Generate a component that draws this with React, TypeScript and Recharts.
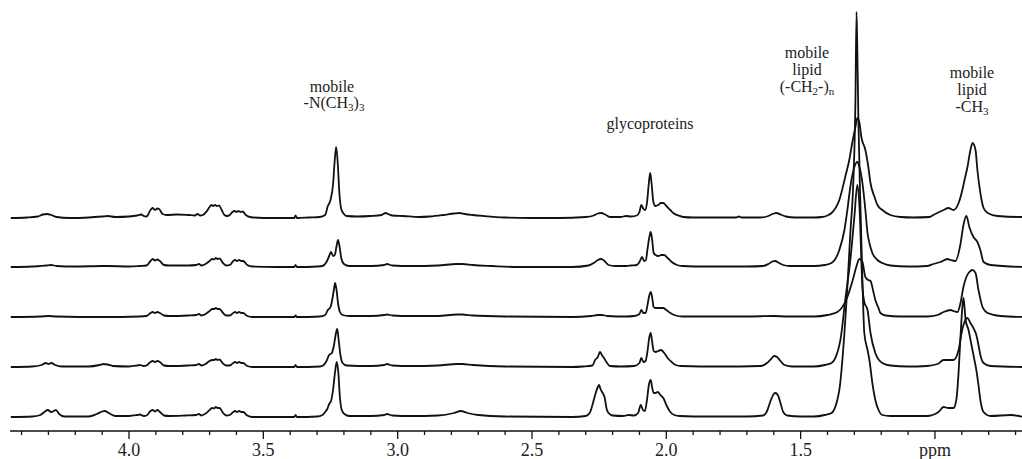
import React from "react";
import { LineChart, Line, XAxis, YAxis } from "recharts";

// tick values (ppm) and labels
const tickValues = [4.4, 4.3, 4.2, 4.1, 4.0, 3.9, 3.8, 3.7, 3.6, 3.5, 3.4, 3.3, 3.2, 3.1, 3.0, 2.9, 2.8, 2.7, 2.6, 2.5, 2.4, 2.3, 2.2, 2.1, 2.0, 1.9, 1.8, 1.7, 1.6, 1.5, 1.4, 1.3, 1.2, 1.1, 1.0, 0.9, 0.8, 0.7];
const majorTicks = [4.0, 3.5, 3.0, 2.5, 2.0, 1.5, 1.0];
const majorLabels = ["4.0", "3.5", "3.0", "2.5", "2.0", "1.5", "ppm"];

// vertical offset of each stacked spectrum (top to bottom)
const offsets = [213, 164, 114, 64, 14];

// [ppm, intensity above baseline]
const trace1: [number, number][] = [
  [4.44,0],[4.38,0.5],[4.34,1.5],[4.32,3.5],[4.305,4],[4.29,3],[4.27,1],[4.22,0],[4.15,0.5],[4.1,1.5],[4.08,2],[4.05,1],[4.0,1.5],[3.97,2.5],[3.955,3.5],[3.945,2],[3.935,1.5],[3.92,8],[3.912,10],[3.903,8],[3.895,9.5],[3.888,9],[3.875,4],[3.86,3],[3.82,3.5],[3.78,3],[3.755,2.5],[3.745,4],[3.735,2.5],[3.725,3],[3.71,7],[3.70,11],[3.693,13],[3.687,12],[3.68,13],[3.673,12],[3.665,12.5],[3.655,8],[3.645,3],[3.635,2],[3.625,3],[3.615,6],[3.607,7],[3.60,6],[3.593,7],[3.585,6],[3.577,6.5],[3.565,3],[3.55,1],[3.5,0],[3.42,0],[3.385,0],[3.38,2.5],[3.375,0],[3.33,0.5],[3.29,1],[3.27,3],[3.26,12],[3.25,18],[3.24,35],[3.235,55],[3.229,71],[3.223,55],[3.217,25],[3.21,9],[3.2,4],[3.19,2],[3.15,1.5],[3.1,2],[3.06,3],[3.045,5],[3.035,4],[3.02,2.5],[2.98,2],[2.92,1],[2.88,1.5],[2.83,3],[2.79,4.5],[2.77,5],[2.75,4],[2.72,3],[2.68,2],[2.6,0.5],[2.5,0],[2.4,0],[2.3,1],[2.27,2.5],[2.255,4.5],[2.242,5],[2.228,3.5],[2.21,1],[2.17,1],[2.15,2],[2.13,1.5],[2.11,2.5],[2.10,6],[2.093,13],[2.085,9],[2.078,8],[2.072,15],[2.065,35],[2.06,45],[2.055,35],[2.048,16],[2.041,12],[2.03,13],[2.02,15],[2.011,15],[2.0,12],[1.985,8],[1.974,5],[1.955,2.5],[1.937,1],[1.9,0.5],[1.8,0.5],[1.74,0.5],[1.73,1.5],[1.72,0.5],[1.65,0.5],[1.62,2],[1.60,4.5],[1.59,5],[1.575,3.5],[1.555,1.5],[1.52,0.5],[1.45,0.5],[1.42,1],[1.40,2.5],[1.385,5],[1.356,18],[1.334,41],[1.319,58],[1.308,75],[1.296,91],[1.289,100],[1.281,95],[1.274,81],[1.259,68],[1.248,51],[1.240,35],[1.225,21],[1.214,13],[1.196,8],[1.166,3],[1.128,1],[1.08,0.5],[1.02,1],[1.006,3],[0.968,8],[0.950,10],[0.931,8],[0.912,15],[0.898,28],[0.890,38],[0.879,51],[0.868,68],[0.860,75],[0.849,68],[0.842,48],[0.831,25],[0.819,10],[0.804,5],[0.767,2],[0.682,1],[0.67,1]
];

const trace2: [number, number][] = [
  [4.44,0],[4.36,0.5],[4.31,1.5],[4.29,2],[4.27,1],[4.2,0.5],[4.1,1],[4.08,1],[4.0,0.5],[3.96,1],[3.935,1.5],[3.92,6],[3.912,8],[3.903,6.5],[3.895,7.5],[3.885,6],[3.87,2],[3.85,1.5],[3.78,1.5],[3.75,2],[3.74,3],[3.73,1.5],[3.715,3],[3.70,6],[3.69,8],[3.683,7.5],[3.677,9],[3.67,8],[3.663,8.5],[3.65,4],[3.638,1.5],[3.625,2],[3.612,6],[3.605,7],[3.598,6],[3.59,7],[3.582,6],[3.575,6],[3.56,2],[3.54,0.5],[3.45,0],[3.385,0],[3.38,2],[3.375,0],[3.3,0.5],[3.28,1],[3.265,5],[3.255,11],[3.248,15],[3.24,11],[3.234,12],[3.228,20],[3.222,27],[3.216,20],[3.21,9],[3.2,3],[3.18,1],[3.1,1],[3.05,2],[3.04,3],[3.02,1.5],[2.95,1],[2.85,1.5],[2.78,3],[2.76,3],[2.72,2],[2.65,1],[2.55,0],[2.35,0],[2.29,1.5],[2.27,4],[2.255,7],[2.242,8],[2.23,6],[2.215,2],[2.19,1],[2.15,1],[2.13,1.5],[2.11,2],[2.10,5],[2.09,10],[2.083,6],[2.076,7],[2.07,18],[2.063,30],[2.058,35],[2.053,28],[2.047,14],[2.04,12],[2.03,11],[2.018,12],[2.008,12],[1.995,9],[1.98,5],[1.96,2],[1.94,1],[1.85,0.5],[1.7,0.5],[1.64,1],[1.62,3],[1.605,5.5],[1.595,6],[1.58,4],[1.565,2],[1.54,1],[1.45,1],[1.41,2],[1.385,4],[1.356,17],[1.337,37],[1.326,57],[1.315,80],[1.300,100],[1.289,105],[1.281,100],[1.270,84],[1.259,57],[1.251,34],[1.244,24],[1.233,14],[1.214,7],[1.196,4],[1.166,1.5],[1.1,0.5],[1.03,1],[1.006,3],[0.980,5],[0.953,8],[0.942,7],[0.924,6],[0.905,23],[0.894,42],[0.883,51],[0.872,40],[0.857,30],[0.842,25],[0.831,17],[0.819,5],[0.793,2],[0.67,0]
];

const trace3: [number, number][] = [
  [4.44,0],[4.33,0.5],[4.30,1],[4.27,0.5],[4.1,0],[3.96,0.5],[3.935,1],[3.92,4],[3.912,5],[3.903,4],[3.895,5],[3.885,4],[3.87,1.5],[3.85,1],[3.78,1.5],[3.75,2],[3.74,3],[3.73,1.5],[3.715,3],[3.70,6],[3.69,8],[3.683,8],[3.677,9],[3.67,8],[3.663,8],[3.65,4],[3.638,1.5],[3.625,1.5],[3.612,4],[3.605,5],[3.598,4],[3.59,5],[3.582,4],[3.575,4],[3.56,1],[3.54,0],[3.385,0],[3.38,1.5],[3.375,0],[3.29,0.5],[3.27,2],[3.26,7],[3.25,10],[3.243,18],[3.237,28],[3.233,34],[3.228,28],[3.222,14],[3.215,5],[3.205,2],[3.18,1],[3.1,1],[3.05,2],[3.04,2.5],[3.02,1.5],[2.95,1],[2.85,1],[2.78,2.5],[2.76,2.5],[2.72,1.5],[2.6,0.5],[2.35,0],[2.28,1],[2.255,2],[2.24,2],[2.22,1],[2.15,0.5],[2.12,1],[2.10,3],[2.093,7],[2.085,4],[2.077,4],[2.07,12],[2.063,22],[2.058,25],[2.053,20],[2.047,10],[2.04,9],[2.025,9],[2.012,9],[2.0,7],[1.985,4],[1.965,1.5],[1.94,0.5],[1.7,0.5],[1.6,1],[1.55,0.5],[1.45,0.5],[1.40,2],[1.363,5],[1.326,20],[1.304,39],[1.293,50],[1.281,58],[1.270,55],[1.259,40],[1.248,37],[1.240,36],[1.229,25],[1.222,17],[1.210,9],[1.203,4],[1.184,1.5],[1.128,0.5],[1.03,0.5],[0.99,2],[0.968,5],[0.942,7],[0.931,6],[0.916,5],[0.905,14],[0.894,30],[0.883,40],[0.872,45],[0.860,47],[0.849,44],[0.838,27],[0.823,10],[0.804,4],[0.756,1],[0.67,0]
];

const trace4: [number, number][] = [
  [4.44,0],[4.36,0.5],[4.325,2],[4.31,4],[4.30,3],[4.29,4],[4.275,2],[4.25,0.5],[4.15,0.5],[4.11,2],[4.095,3],[4.08,2.5],[4.06,1],[4.0,0.5],[3.97,1.5],[3.96,2],[3.945,1],[3.935,1.5],[3.92,5],[3.912,6],[3.903,5],[3.895,6],[3.885,5],[3.87,1.5],[3.85,1],[3.78,1.5],[3.75,2],[3.74,3],[3.73,1.5],[3.715,3],[3.70,6],[3.69,7],[3.683,7],[3.677,8],[3.67,7],[3.663,7.5],[3.65,3.5],[3.638,1.5],[3.625,1.5],[3.612,4],[3.605,5],[3.598,4],[3.59,5],[3.582,4],[3.575,4],[3.56,1],[3.54,0],[3.385,0],[3.38,2],[3.375,0],[3.29,0.5],[3.275,2],[3.265,6],[3.255,12],[3.245,14],[3.237,22],[3.231,32],[3.225,38],[3.22,28],[3.213,12],[3.205,4],[3.19,1.5],[3.1,1],[3.05,2],[3.04,3],[3.02,1.5],[2.95,1],[2.85,1.5],[2.78,3],[2.76,3],[2.72,2],[2.6,0.5],[2.35,0],[2.31,0.5],[2.275,1.5],[2.265,7],[2.255,10],[2.247,15],[2.24,12],[2.232,9],[2.223,5],[2.21,1],[2.17,0.5],[2.12,1],[2.10,4],[2.093,9],[2.085,5],[2.077,6],[2.07,16],[2.063,30],[2.058,34],[2.053,26],[2.047,16],[2.04,15],[2.03,16],[2.02,17],[2.005,13],[1.995,9],[1.98,5],[1.965,2],[1.945,1],[1.8,0.5],[1.65,1],[1.625,4],[1.61,8],[1.598,11],[1.588,10],[1.575,6],[1.56,2],[1.53,0.5],[1.45,0.5],[1.41,2],[1.385,4],[1.352,27],[1.334,67],[1.315,107],[1.300,150],[1.289,182],[1.281,160],[1.270,80],[1.263,65],[1.251,57],[1.240,34],[1.222,14],[1.196,4],[1.166,1.5],[1.1,0.5],[1.03,1],[0.99,3],[0.968,7],[0.950,7],[0.931,7],[0.912,17],[0.901,34],[0.890,45],[0.879,49],[0.868,44],[0.857,39],[0.846,32],[0.838,22],[0.831,12],[0.819,4],[0.793,1],[0.67,0]
];

const trace5: [number, number][] = [
  [4.44,0],[4.36,0.5],[4.33,2],[4.315,5],[4.302,7],[4.29,5],[4.28,6],[4.272,7],[4.26,3],[4.24,0.5],[4.15,0.5],[4.12,3],[4.10,5.5],[4.09,6],[4.075,4],[4.05,1],[4.0,1],[3.97,2],[3.96,2.5],[3.945,1],[3.935,1.5],[3.92,6],[3.912,7],[3.903,5.5],[3.895,7],[3.885,5],[3.87,1.5],[3.85,1],[3.79,1.5],[3.75,2],[3.74,3],[3.73,1.5],[3.715,3.5],[3.70,7],[3.69,9],[3.683,8.5],[3.677,10],[3.67,9],[3.663,9],[3.65,4],[3.638,1.5],[3.625,2],[3.612,5],[3.605,6],[3.598,5],[3.59,6],[3.582,5],[3.575,5],[3.56,1.5],[3.54,0],[3.385,0],[3.38,2],[3.375,0],[3.30,0.5],[3.28,2],[3.27,5],[3.262,8],[3.255,13],[3.248,16],[3.24,28],[3.233,45],[3.227,55],[3.221,45],[3.215,20],[3.208,7],[3.198,3],[3.18,1],[3.1,1],[3.05,2],[3.04,3],[3.02,1.5],[2.95,1],[2.85,1.5],[2.79,4],[2.765,6],[2.74,4],[2.70,2],[2.6,0.5],[2.35,0],[2.30,1],[2.285,4],[2.275,12],[2.265,22],[2.255,30],[2.25,32],[2.245,28],[2.237,24],[2.23,20],[2.222,8],[2.215,4],[2.2,1.5],[2.16,1],[2.14,2],[2.12,1.5],[2.105,4],[2.095,12],[2.087,7],[2.08,6],[2.072,17],[2.065,32],[2.058,37],[2.053,30],[2.047,24],[2.04,24],[2.032,25],[2.022,22],[2.011,19],[2.0,12],[1.985,5],[1.97,2],[1.95,1],[1.85,0.5],[1.7,0.5],[1.64,1.5],[1.625,6],[1.612,16],[1.60,23],[1.594,24],[1.585,22],[1.575,14],[1.565,5],[1.55,1.5],[1.5,0.5],[1.45,0.5],[1.41,2],[1.385,4],[1.356,27],[1.337,84],[1.326,130],[1.315,184],[1.304,234],[1.296,317],[1.292,405],[1.289,367],[1.285,297],[1.278,217],[1.270,137],[1.263,84],[1.251,67],[1.244,57],[1.233,34],[1.222,17],[1.210,7],[1.196,2],[1.166,1],[1.03,1],[0.987,5],[0.968,10],[0.950,9],[0.931,9],[0.920,18],[0.912,45],[0.905,80],[0.898,110],[0.894,119],[0.890,110],[0.886,97],[0.875,87],[0.864,72],[0.853,57],[0.846,47],[0.838,32],[0.831,17],[0.819,5],[0.793,1],[0.718,2],[0.67,0]
];

const traces = [trace1, trace2, trace3, trace4, trace5];

const seriesData = traces.map((pts, i) =>
  pts.map(([ppm, h]) => ({ ppm, y: offsets[i] + h }))
);

const FONT = "Liberation Serif, serif";

const AxisTick = (props: any) => {
  const { x, y, payload } = props;
  const v = payload.value as number;
  const idx = majorTicks.findIndex((m) => Math.abs(m - v) < 1e-6);
  const major = idx >= 0;
  return (
    <g>
      <line x1={x} x2={x} y1={y} y2={y + (major ? 8 : 4)} stroke="#111" strokeWidth={1.3} />
      {major && (
        <text x={x} y={y + 25} textAnchor="middle" fontFamily={FONT} fontSize={18} fill="#222">
          {majorLabels[idx]}
        </text>
      )}
    </g>
  );
};

export default function App() {
  return (
    <div style={{ position: "absolute", left: 0, top: 0, width: 1022, height: 459, background: "#fff" }}>
      <LineChart
        width={1022}
        height={459}
        margin={{ top: 0, right: 0, left: 10, bottom: 0 }}
      >
        <XAxis
          dataKey="ppm"
          type="number"
          domain={[0.676, 4.443]}
          reversed
          allowDataOverflow
          ticks={tickValues}
          interval={0}
          tickSize={0}
          tickMargin={0}
          tick={<AxisTick />}
          height={28}
          axisLine={{ stroke: "#111", strokeWidth: 1.4 }}
          tickLine={false}
        />
        <YAxis type="number" domain={[0, 431]} hide allowDataOverflow />
        {seriesData.map((d, i) => (
          <Line
            key={i}
            data={d}
            dataKey="y"
            type="monotone"
            stroke="#111"
            strokeWidth={1.8}
            dot={false}
            isAnimationActive={false}
          />
        ))}
      </LineChart>
      <svg
        width={1022}
        height={459}
        style={{ position: "absolute", left: 0, top: 0, pointerEvents: "none" }}
        fontFamily={FONT}
        fontSize={16}
        fill="#222"
      >
        <text x={332} y={92} textAnchor="middle">mobile</text>
        <text x={334} y={108} textAnchor="middle">
          -N(CH<tspan fontSize={11} dy={3}>3</tspan><tspan dy={-3}>)</tspan><tspan fontSize={11} dy={3}>3</tspan>
        </text>
        <text x={650} y={129} textAnchor="middle">glycoproteins</text>
        <text x={807} y={58} textAnchor="middle">mobile</text>
        <text x={807} y={75} textAnchor="middle">lipid</text>
        <text x={807} y={92} textAnchor="middle">
          (-CH<tspan fontSize={11} dy={3}>2</tspan><tspan dy={-3}>-)</tspan><tspan fontSize={11} dy={3}>n</tspan>
        </text>
        <text x={972} y={78} textAnchor="middle">mobile</text>
        <text x={972} y={95} textAnchor="middle">lipid</text>
        <text x={972} y={112} textAnchor="middle">
          -CH<tspan fontSize={11} dy={3}>3</tspan>
        </text>
      </svg>
    </div>
  );
}
